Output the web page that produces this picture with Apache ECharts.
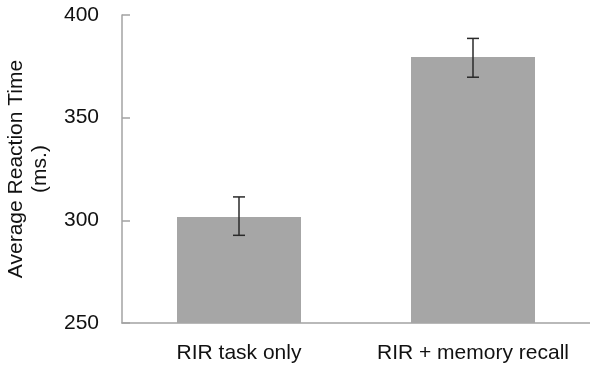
<!DOCTYPE html>
<html>
<head>
<meta charset="utf-8">
<script src="https://cdn.jsdelivr.net/npm/echarts@6/dist/echarts.min.js"></script>
<style>html,body{margin:0;padding:0;background:#fff;}#c{width:590px;height:369px;}</style>
</head>
<body>
<div id="c"></div>
<script>
const categories = ['RIR task only', 'RIR + memory recall'];
const meanValues = [301.6, 379.5];
const errLow = [292.7, 369.7];
const errHigh = [311.4, 388.6];
const yTicks = [250, 300, 350, 400];

const chart = echarts.init(document.getElementById('c'), null, {renderer: 'canvas'});
const font = 'Liberation Sans, Arial, Helvetica, sans-serif';
chart.setOption({
  animation: false,
  backgroundColor: '#fff',
  grid: {left: 122, right: 0, top: 15, bottom: 46, containLabel: false, outerBoundsMode: 'none'},
  xAxis: {
    type: 'category',
    data: categories,
    axisLine: {lineStyle: {color: '#a3a3a3', width: 1.5}},
    axisTick: {show: false},
    axisLabel: {color: '#111', fontFamily: font, fontSize: 21, margin: 20, interval: 0, hideOverlap: false}
  },
  yAxis: {
    type: 'value',
    min: yTicks[0],
    max: yTicks[yTicks.length - 1],
    interval: 50,
    name: 'Average Reaction Time\n(ms.)',
    nameLocation: 'middle',
    nameGap: 70,
    nameTextStyle: {color: '#111', fontFamily: font, fontSize: 21, lineHeight: 24},
    axisLine: {show: true, lineStyle: {color: '#a3a3a3', width: 1.5}},
    axisTick: {show: true, inside: true, length: 8, lineStyle: {color: '#a3a3a3', width: 1.5}},
    axisLabel: {color: '#111', fontFamily: font, fontSize: 21, margin: 23},
    splitLine: {show: false}
  },
  series: [
    {
      type: 'bar',
      data: meanValues,
      barWidth: 124,
      itemStyle: {color: '#a6a6a6'}
    },
    {
      type: 'custom',
      data: categories.map((c, i) => [i, errLow[i], errHigh[i]]),
      renderItem: function (params, api) {
        const x = api.value(0);
        const lo = api.coord([x, api.value(1)]);
        const hi = api.coord([x, api.value(2)]);
        const hw = 6;
        const style = {stroke: '#2a2a2a', lineWidth: 1.5};
        return {
          type: 'group',
          children: [
            {type: 'line', shape: {x1: lo[0], y1: lo[1], x2: hi[0], y2: hi[1]}, style: style},
            {type: 'line', shape: {x1: lo[0] - hw, y1: lo[1], x2: lo[0] + hw, y2: lo[1]}, style: style},
            {type: 'line', shape: {x1: hi[0] - hw, y1: hi[1], x2: hi[0] + hw, y2: hi[1]}, style: style}
          ]
        };
      },
      z: 10
    }
  ]
});
</script>
</body>
</html>
